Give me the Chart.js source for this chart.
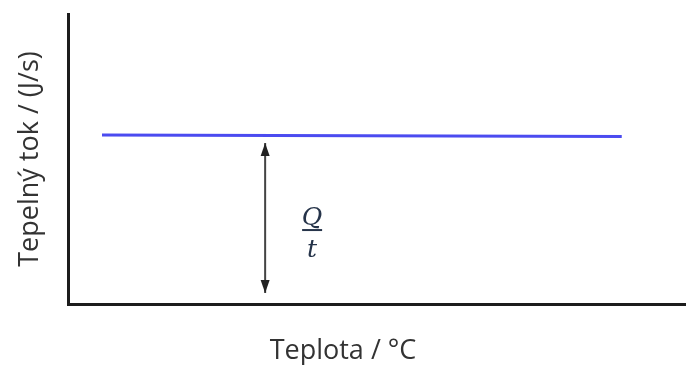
<!DOCTYPE html>
<html lang="cs">
<head>
<meta charset="utf-8">
<title>Tepelný tok</title>
<script src="https://cdn.jsdelivr.net/npm/chart.js@4.4.1/dist/chart.umd.min.js"></script>
<style>
  html, body { margin: 0; padding: 0; background: #fff; }
  #wrap { position: relative; width: 686px; height: 365px; }
</style>
</head>
<body>
<div id="wrap"><canvas id="chart"></canvas></div>
<script>
// axis labels
const xTitle = 'Teplota / °C';
const yTitle = 'Tepelný tok / (J/s)';

// axes run 0..100 with no ticks
const xRange = [0, 100];
const yRange = [0, 100];

// constant heat flow line
const flowT = [5.5, 89.6];
const flowQ = [58.3, 57.8];

// double arrow between baseline and the flow line
const gapT = [31.9, 31.9];
const gapQ = [55.5, 3.8];

// Q/t label position
const fracT = 39.5;
const fracQ = 25.5;

const ink = '#333';
const labelFont = { family: '"Open Sans"', size: 27, weight: 'normal', lineHeight: 1 };

// arrow heads on both ends of a dataset flagged with arrowHeads
const arrowHeads = {
  id: 'arrowHeads',
  afterDatasetsDraw(chart) {
    const ctx = chart.ctx;
    chart.data.datasets.forEach((ds, i) => {
      if (!ds.arrowHeads) return;
      const pts = chart.getDatasetMeta(i).data;
      const ends = [[pts[0], pts[1]], [pts[pts.length - 1], pts[pts.length - 2]]];
      ctx.save();
      ctx.fillStyle = '#222';
      ends.forEach(([tip, from]) => {
        const ang = Math.atan2(tip.y - from.y, tip.x - from.x);
        const len = 13, half = 4.5;
        ctx.beginPath();
        ctx.moveTo(tip.x, tip.y);
        ctx.lineTo(tip.x - len * Math.cos(ang) + half * Math.sin(ang),
                   tip.y - len * Math.sin(ang) - half * Math.cos(ang));
        ctx.lineTo(tip.x - len * Math.cos(ang) - half * Math.sin(ang),
                   tip.y - len * Math.sin(ang) + half * Math.cos(ang));
        ctx.closePath();
        ctx.fill();
      });
      ctx.restore();
    });
  }
};

// italic Q over t
const fraction = {
  id: 'fraction',
  afterDatasetsDraw(chart) {
    const {ctx, scales: {x, y}} = chart;
    const cx = x.getPixelForValue(fracT);
    const cy = y.getPixelForValue(fracQ);
    ctx.save();
    ctx.fillStyle = '#26344a';
    ctx.strokeStyle = '#26344a';
    ctx.textAlign = 'center';
    ctx.font = 'italic 25px "DejaVu Serif"';
    ctx.textBaseline = 'alphabetic';
    ctx.fillText('Q', cx, cy - 5);
    ctx.fillText('t', cx, cy + 27);
    ctx.lineWidth = 2;
    ctx.beginPath();
    ctx.moveTo(cx - 10, cy);
    ctx.lineTo(cx + 10, cy);
    ctx.stroke();
    ctx.restore();
  }
};

const toPoints = (xs, ys) => xs.map((v, i) => ({x: v, y: ys[i]}));

new Chart(document.getElementById('chart'), {
  type: 'line',
  data: {
    datasets: [
      {
        data: toPoints(flowT, flowQ),
        borderColor: '#4b4bf0',
        borderWidth: 3,
        pointRadius: 0
      },
      {
        data: toPoints(gapT, gapQ),
        borderColor: '#444',
        borderWidth: 2,
        pointRadius: 0,
        arrowHeads: true
      }
    ]
  },
  options: {
    responsive: true,
    maintainAspectRatio: false,
    animation: false,
    layout: { padding: { top: 14, left: 0, right: 0, bottom: 0 } },
    plugins: {
      legend: { display: false },
      tooltip: { enabled: false },
      title: {
        display: true,
        position: 'bottom',
        text: xTitle,
        color: ink,
        font: labelFont,
        padding: { top: 34, bottom: 0 }
      }
    },
    scales: {
      x: {
        type: 'linear',
        min: xRange[0],
        max: xRange[1],
        ticks: { display: false },
        grid: { display: false, drawTicks: false },
        border: { display: true, color: '#1c1c1c', width: 3 }
      },
      y: {
        type: 'linear',
        min: yRange[0],
        max: yRange[1],
        ticks: { display: false },
        grid: { display: false, drawTicks: false },
        border: { display: true, color: '#1c1c1c', width: 3 },
        title: {
          display: true,
          text: yTitle,
          color: ink,
          font: labelFont,
          padding: { top: 16.5, bottom: 24.5 }
        }
      }
    }
  },
  plugins: [arrowHeads, fraction]
});
</script>
</body>
</html>
